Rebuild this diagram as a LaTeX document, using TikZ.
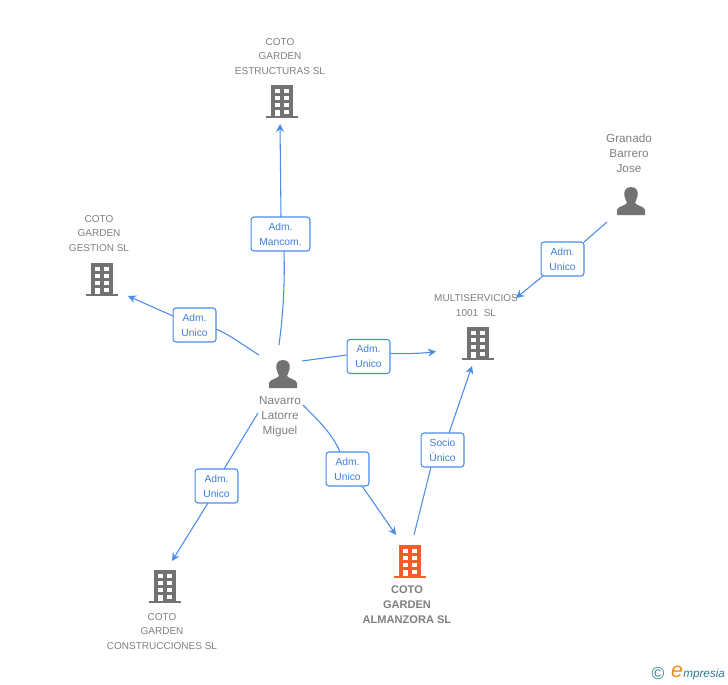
\documentclass[tikz,border=0pt]{standalone}
\usepackage{fontspec}
\setmainfont{Liberation Sans}
\usetikzlibrary{arrows.meta}
\definecolor{linkblue}{HTML}{4A8DE8}
\definecolor{boxtext}{HTML}{3F7FD8}
\definecolor{icongray}{HTML}{727272}
\definecolor{labelgray}{HTML}{808080}
\definecolor{accent}{HTML}{FF5A2B}
\definecolor{logoblue}{HTML}{2F7C96}
\definecolor{logoorange}{HTML}{F08A1D}
\tikzset{
  x=0.75pt,y=-0.75pt,
  link/.style={draw=linkblue,line width=0.8pt},
  arrowlink/.style={link,-{Stealth[length=6pt,width=6pt]}},
  rolebox/.style={draw=linkblue,line width=0.8pt,rounded corners=2.2pt,fill=white,
    minimum height=25.5pt,inner sep=0pt,align=center,text=boxtext,
    font=\fontsize{7.7}{11.2}\selectfont},
  role43/.style={rolebox,minimum width=32.2pt},
  role59/.style={rolebox,minimum width=44.2pt},
  lbl/.style={text=labelgray,align=center,inner sep=0pt,font=\fontsize{7.5}{11.2}\selectfont},
  lblb/.style={lbl,font=\fontsize{8.3}{11.2}\selectfont\bfseries},
  lblp/.style={lbl,font=\fontsize{8.8}{11.2}\selectfont},
  anchorpt/.style={inner sep=0pt,minimum size=0pt},
  pics/building/.style={code={
    \fill[#1] (-11,-16) rectangle (11,15);
    \fill[#1] (-16,15) rectangle (16,17);
    \foreach \yy in {-12,-5,2}{
      \fill[white] (-7,\yy) rectangle (-2,\yy+4);
      \fill[white] (2,\yy) rectangle (7,\yy+4);}
    \fill[white] (-7,9) rectangle (-2,15);
    \fill[white] (2,9) rectangle (7,13);
  }},
  pics/person/.style={code={
    \fill[icongray] (0,-14) .. controls (6,-14) and (7.5,-9) .. (6.5,-5)
      .. controls (6,-2) and (4.5,0) .. (4,2)
      .. controls (6,5) and (13,5) .. (14,9) -- (14,14) -- (-14,14) -- (-14,9)
      .. controls (-13,5) and (-6,5) .. (-4,2)
      .. controls (-4.5,0) and (-6,-2) .. (-6.5,-5)
      .. controls (-7.5,-9) and (-6,-14) .. (0,-14) -- cycle;
  }}
}
\begin{document}
\begin{tikzpicture}
\useasboundingbox[fill=white] (0,0) rectangle (728,685);

% icons
\pic at (282,101) {building=icongray};
\pic at (102,279) {building=icongray};
\pic at (478,343) {building=icongray};
\pic at (165,586) {building=icongray};
\pic at (410,561) {building=accent};
\pic at (283,374) {person};
\pic at (631,201) {person};

% labels
\node[lbl] (estructuras) at (280,56.5) {COTO\\GARDEN\\ESTRUCTURAS SL};
\node[lbl] (gestion) at (99,233.5) {COTO\\GARDEN\\GESTION SL};
\node[lbl] (multi) at (476,305.5) {MULTISERVICIOS\\1001\ \ SL};
\node[lbl] (construcciones) at (162,631.5) {COTO\\GARDEN\\CONSTRUCCIONES SL};
\node[lblb] (almanzora) at (407,604.5) {COTO\\GARDEN\\ALMANZORA SL};
\node[lblp] (navarro) at (280,416.5) {Navarro\\Latorre\\Miguel};
\node[lblp] (granado) at (629,153) {Granado\\Barrero\\Jose};

% relation boxes
\node[role59] (r1) at (280.5,234) {Adm.\\Mancom.};
\node[role43] (r2) at (194.5,325) {Adm.\\Unico};
\node[role43] (r3) at (368.5,356.5) {Adm.\\Unico};
\node[role43] (r4) at (216.5,486) {Adm.\\Unico};
\node[role43] (r5) at (347.5,469) {Adm.\\Unico};
\node[role43] (r6) at (442.5,450) {Socio\\Único};
\node[role43] (r7) at (562.5,259) {Adm.\\Unico};

% free ends of connectors
\coordinate (n1) at (279,345);
\coordinate (n2) at (259,355);
\coordinate (n3) at (302,361);
\coordinate (n4) at (258,413);
\coordinate (n5) at (303,405);
\coordinate (a1) at (414,535);
\coordinate (g1) at (607,222);
\coordinate (t1) at (280,124);
\coordinate (t2) at (128,296);
\coordinate (t3) at (436,351.5);
\coordinate (t4) at (172,561);
\coordinate (t5) at (396,535);
\coordinate (t6) at (472,366);
\coordinate (t7) at (516,298);

% connectors
\draw[link] (n1) .. controls (283,315) and (285,285) .. (284,251);
\draw[arrowlink] (281,217) -- (t1);
\draw[link] (n2) .. controls (243,345) and (230,335) .. (216,329);
\draw[arrowlink] (173,316) -- (t2);
\draw[link] (n3) -- (r3.west |- 0,355);
\draw[arrowlink] (r3.east |- 0,353.5) .. controls (410,354) and (425,353) .. (t3);
\draw[link] (n4) -- (224,469);
\draw[arrowlink] (208,503) -- (t4);
\draw[link] (n5) .. controls (320,422) and (333,435) .. (340,452);
\draw[arrowlink] (362,486) -- (t5);
\draw[link] (a1) -- (431,467);
\draw[arrowlink] (449,433) -- (t6);
\draw[link] (g1) -- (584,242);
\draw[arrowlink] (543,276) -- (t7);

% logo
\node[anchorpt,text=logoblue,font=\fontsize{13}{13}\selectfont] (copy) at (658,674) {©};
\node[anchorpt,text=logoorange,font=\fontsize{16}{16}\selectfont\itshape] (logoe) at (677,672) {e};
\node[anchorpt,anchor=west,text=logoblue,font=\fontsize{8.8}{10}\selectfont\itshape] (logotext) at (683,674) {mpresia};
\end{tikzpicture}
\end{document}
